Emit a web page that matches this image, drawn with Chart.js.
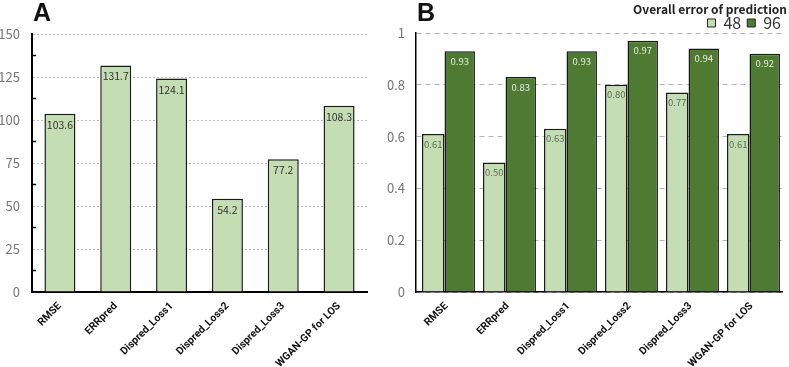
<!DOCTYPE html>
<html><head><meta charset="utf-8">
<script src="https://cdn.jsdelivr.net/npm/chart.js@4/dist/chart.umd.min.js"></script>
<style>
html,body{margin:0;padding:0;background:#fff;}
#wrap{position:relative;width:789px;height:367px;overflow:hidden;}
#cA{position:absolute;left:0;top:0;}
#cB{position:absolute;left:375px;top:0;}
.lbl{position:absolute;font-family:"Liberation Sans",Arial,sans-serif;font-weight:bold;font-size:25px;color:#111;line-height:1;}
</style></head>
<body><div id="wrap">
<canvas id="cA" width="375" height="367"></canvas>
<canvas id="cB" width="414" height="367"></canvas>
<div class="lbl" style="left:33px;top:0px;">A</div>
<div class="lbl" style="left:417px;top:0px;">B</div>
</div>
<script>
const categories = ["RMSE","ERRpred","Dispred_Loss1","Dispred_Loss2","Dispred_Loss3","WGAN-GP for LOS"];
const valuesA = [103.6,131.7,124.1,54.2,77.2,108.3];
const values48 = [0.61,0.50,0.63,0.80,0.77,0.61];
const values96 = [0.93,0.83,0.93,0.97,0.94,0.92];
const seriesNames = ["48","96"];
const legendTitle = "Overall error of prediction";

const LIGHT = "#c5ddb3";
const DARK = "#4e7a31";
const FONT = "'Noto Sans CJK SC','Noto Sans',sans-serif";
const XFONT = {family:"Roboto,'Noto Sans',sans-serif",size:10.5,weight:'bold'};
const TICKCOL = '#767676';

const valueLabels = {
  id:'valueLabels',
  afterDatasetsDraw(chart, args, opts){
    const ctx = chart.ctx;
    chart.data.datasets.forEach((ds,i)=>{
      const meta = chart.getDatasetMeta(i);
      meta.data.forEach((bar,j)=>{
        const v = ds.data[j];
        ctx.save();
        ctx.font = (opts.size||10)+"px "+FONT;
        ctx.fillStyle = ds.labelColor;
        ctx.textAlign='center';ctx.textBaseline='middle';
        ctx.fillText(opts.fmt(v), bar.x, bar.y+ (opts.off||10));
        ctx.restore();
      });
    });
  }
};

const minorTicks = {
  id:'minorTicks',
  afterDraw(chart){
    const s = chart.scales.y; const ctx = chart.ctx;
    ctx.save(); ctx.strokeStyle='#000'; ctx.lineWidth=1.5;
    for(let v=12.5; v<150; v+=25){
      const y = s.getPixelForValue(v);
      ctx.beginPath(); ctx.moveTo(s.right, y); ctx.lineTo(s.right+4, y); ctx.stroke();
    }
    ctx.restore();
  }
};

new Chart(document.getElementById('cA'),{
  type:'bar',
  data:{labels:categories,datasets:[{data:valuesA,backgroundColor:LIGHT,borderColor:'#1a1a1a',borderWidth:1.5,borderSkipped:'start',labelColor:'#333',barPercentage:0.555,categoryPercentage:1}]},
  options:{
    responsive:false,animation:false,
    layout:{padding:{top:34,right:8,bottom:0,left:0}},
    plugins:{legend:{display:false},tooltip:{enabled:false},valueLabels:{fmt:v=>v.toFixed(1),size:10.5,off:11}},
    scales:{
      x:{grid:{display:false},border:{color:'#000',width:2},
        ticks:{color:'#111',font:XFONT,minRotation:45,maxRotation:45,padding:0},
        afterFit(s){s.height=75;}},
      y:{min:0,max:150,border:{color:'#000',width:2,dash:[2,2]},
        grid:{color:'#bdbdbd',lineWidth:1,drawTicks:false},
        ticks:{stepSize:25,color:TICKCOL,font:{family:FONT,size:13},padding:12},
        afterFit(s){s.width=32;}}
    }
  },
  plugins:[valueLabels,minorTicks]
});

new Chart(document.getElementById('cB'),{
  type:'bar',
  data:{labels:categories,datasets:[
    {label:seriesNames[0],data:values48,backgroundColor:LIGHT,borderColor:'#1a1a1a',borderWidth:1.5,labelColor:'#5d6b55',barPercentage:0.85,categoryPercentage:0.868},
    {label:seriesNames[1],data:values96,backgroundColor:DARK,borderColor:'#1a1a1a',borderWidth:1.5,labelColor:'#e8efe2',barPercentage:1.15,categoryPercentage:0.868}
  ]},
  options:{
    responsive:false,animation:false,
    layout:{padding:{top:0,right:2,bottom:0,left:0}},
    plugins:{
      legend:{display:true,position:'top',align:'end',maxHeight:33,
        title:{display:true,text:legendTitle,position:'end',color:'#222',font:{family:FONT,size:12,weight:'bold'},padding:{top:3,bottom:-8.4}},
        labels:{boxWidth:8,boxHeight:8,color:'#333',font:{family:FONT,size:16},padding:6,
          generateLabels(chart){return chart.data.datasets.map((d,i)=>({text:d.label,fillStyle:d.backgroundColor,strokeStyle:'#222',lineWidth:1,datasetIndex:i,fontColor:'#333'}));}}
      },
      tooltip:{enabled:false},
      valueLabels:{fmt:v=>v.toFixed(2),size:9.5,off:10}
    },
    scales:{
      x:{grid:{display:false},border:{color:'#000',width:1.5},
        ticks:{color:'#111',font:XFONT,minRotation:45,maxRotation:45,padding:0},
        afterFit(s){s.height=75;}},
      y:{min:0,max:1,border:{color:'#000',width:1.5,dash:[5,4]},
        grid:{color:'#b5b5b5',lineWidth:1,drawTicks:false},
        ticks:{stepSize:0.2,color:TICKCOL,font:{family:FONT,size:13},padding:11,callback:v=>v===0||v===1?String(v):v.toFixed(1)},
        afterFit(s){s.width=41;}},
      yR:{type:'linear',position:'right',display:true,grid:{display:false},border:{display:false},ticks:{display:false},
        afterFit(s){s.width=5;}}
    }
  },
  plugins:[valueLabels]
});
</script>
</body></html>
